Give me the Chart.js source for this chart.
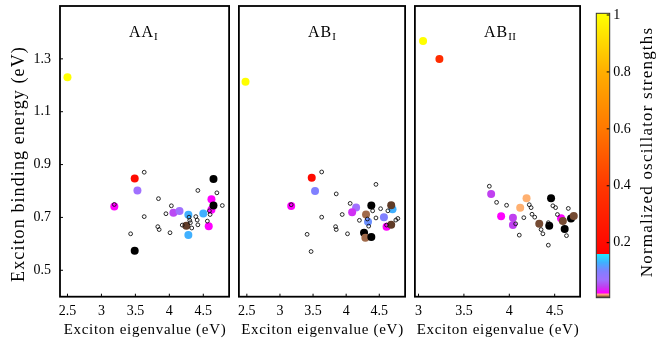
<!DOCTYPE html>
<html>
<head>
<meta charset="utf-8">
<script src="https://cdn.jsdelivr.net/npm/chart.js@4.4.1/dist/chart.umd.min.js"></script>
<style>
html, body { margin: 0; padding: 0; background: #fff; }
#wrap { position: relative; width: 660px; height: 344px; overflow: hidden; }
canvas { position: absolute; top: 0; }
</style>
</head>
<body>
<div id="wrap">
  <canvas id="p1" width="234" height="344" style="left:0px"></canvas>
  <canvas id="p2" width="176" height="344" style="left:234px"></canvas>
  <canvas id="p3" width="175" height="344" style="left:410px"></canvas>
  <canvas id="cb" width="75" height="344" style="left:585px"></canvas>
</div>
<script>
// AA_I: bright excitons (filled) and dark ones (open)
const aaX = [2.50, 3.49, 3.53, 3.19, 3.49, 4.06, 4.15, 4.28, 4.28, 4.25, 4.50, 4.58, 4.62, 4.62, 4.65, 4.65];
const aaY = [1.23, 0.847, 0.802, 0.741, 0.574, 0.718, 0.724, 0.71, 0.633, 0.668, 0.715, 0.667, 0.769, 0.729, 0.845, 0.745];
const aaF = [1.0, 0.2, 0.07, 0.025, 0, 0.05, 0.07, 0.13, 0.13, 0.009, 0.13, 0.025, 0.025, 0.025, 0, 0];
const aaOx = [3.63, 3.43, 3.63, 3.84, 3.83, 3.85, 3.95, 4.03, 4.01, 4.19, 4.29, 4.30, 4.31, 4.33, 4.39, 4.41, 4.42, 4.42, 4.56, 4.59, 4.60, 4.70, 4.78, 3.19];
const aaOy = [0.871, 0.638, 0.703, 0.771, 0.665, 0.654, 0.714, 0.744, 0.642, 0.671, 0.701, 0.689, 0.680, 0.660, 0.703, 0.690, 0.672, 0.802, 0.686, 0.725, 0.711, 0.793, 0.745, 0.749];

// AB_I
const abX = [2.48, 3.48, 3.53, 3.17, 4.15, 4.09, 4.38, 4.30, 4.33, 4.27, 4.29, 4.38, 4.57, 4.61, 4.70, 4.68, 4.68];
const abY = [1.213, 0.85, 0.80, 0.743, 0.738, 0.72, 0.745, 0.711, 0.684, 0.642, 0.623, 0.626, 0.701, 0.665, 0.731, 0.746, 0.672];
const abF = [1.0, 0.2, 0.1, 0.025, 0.07, 0.04, 0, 0.012, 0.11, 0, 0.012, 0, 0.1, 0.025, 0.13, 0.009, 0.009];
const abOx = [3.63, 3.41, 3.47, 3.63, 3.85, 3.84, 3.85, 3.94, 4.02, 4.06, 4.20, 4.32, 4.34, 4.40, 4.45, 4.45, 4.52, 4.63, 4.75, 4.78, 4.61, 3.17];
const abOy = [0.872, 0.636, 0.571, 0.701, 0.789, 0.665, 0.654, 0.711, 0.638, 0.753, 0.689, 0.694, 0.667, 0.725, 0.698, 0.825, 0.733, 0.725, 0.690, 0.696, 0.671, 0.748];

// AB_II
const ab2X = [3.05, 3.23, 3.80, 3.91, 4.04, 4.04, 4.12, 4.19, 4.33, 4.46, 4.44, 4.61, 4.57, 4.59, 4.68, 4.71];
const ab2Y = [1.368, 1.299, 0.789, 0.704, 0.699, 0.671, 0.737, 0.773, 0.676, 0.773, 0.668, 0.656, 0.697, 0.686, 0.696, 0.705];
const ab2F = [1.0, 0.35, 0.045, 0.025, 0.045, 0.045, 0.017, 0.017, 0.010, 0, 0, 0, 0.025, 0.010, 0, 0.010];
const ab2Ox = [3.78, 3.86, 3.97, 4.07, 4.11, 4.16, 4.22, 4.24, 4.25, 4.28, 4.35, 4.37, 4.43, 4.43, 4.48, 4.51, 4.53, 4.65, 4.63];
const ab2Oy = [0.818, 0.757, 0.746, 0.676, 0.633, 0.699, 0.748, 0.737, 0.712, 0.701, 0.654, 0.638, 0.595, 0.68, 0.744, 0.737, 0.711, 0.734, 0.631];

const xTicksI = [2.5, 3, 3.5, 4, 4.5];
const xTicksII = [3, 3.5, 4, 4.5];
const yTicks = [0.5, 0.7, 0.9, 1.1, 1.3];
const cbTicks = [0.2, 0.4, 0.6, 0.8, 1];

// colormap of the colorbar
const cmapPos = [0, 0.005, 0.009, 0.012, 0.017, 0.025, 0.045, 0.07, 0.1, 0.13, 0.16, 0.1601, 0.2, 0.4, 0.6, 0.8, 1];
const cmapCol = ["#000000", "#1a1010", "#603c28", "#a06a4a", "#ffb070", "#ff00ff", "#c040f0", "#a070ff",
  "#8080ff", "#40b0ff", "#20e8ff", "#ff0000", "#ff0a00", "#ff3800", "#ff7800", "#ffae00", "#ffff00"];

const FONT = "'Liberation Serif', 'Times New Roman', serif";

function hex(c) {
  return [1, 3, 5].map(i => parseInt(c.substr(i, 2), 16));
}
function cmap(v) {
  for (let i = 1; i < cmapPos.length; i++) {
    if (v <= cmapPos[i]) {
      const t = (v - cmapPos[i - 1]) / (cmapPos[i] - cmapPos[i - 1]);
      const a = hex(cmapCol[i - 1]), b = hex(cmapCol[i]);
      const c = a.map((x, k) => Math.round(x + (b[k] - x) * t));
      return "rgb(" + c.join(",") + ")";
    }
  }
  return cmapCol[cmapCol.length - 1];
}

function pts(xs, ys) {
  return xs.map((x, i) => ({ x: x, y: ys[i] }));
}

function noPad(s) {
  s.paddingTop = 0; s.paddingBottom = 0; s.paddingLeft = 0; s.paddingRight = 0;
}

// frame around the plot area and short inward ticks
const framePlugin = {
  id: "frame",
  afterDraw(chart) {
    const { ctx, chartArea: a, scales } = chart;
    ctx.save();
    ctx.strokeStyle = "#000";
    ctx.lineWidth = 1;
    const x = scales.x, y = scales.y;
    if (x.options.display) {
      x.ticks.forEach(t => {
        const px = x.getPixelForValue(t.value);
        ctx.beginPath(); ctx.moveTo(px, a.bottom); ctx.lineTo(px, a.bottom - 3); ctx.stroke();
      });
    }
    if (y.options.display) {
      y.ticks.forEach(t => {
        const py = y.getPixelForValue(t.value);
        ctx.beginPath();
        if (y.position === "right") { ctx.moveTo(a.right, py); ctx.lineTo(a.right - 3, py); }
        else { ctx.moveTo(a.left, py); ctx.lineTo(a.left + 3, py); }
        ctx.stroke();
      });
    }
    ctx.lineWidth = chart.canvas.id === "cb" ? 1 : 1.8;
    ctx.strokeStyle = chart.canvas.id === "cb" ? "#333" : "#000";
    ctx.strokeRect(a.left, a.top, a.right - a.left, a.bottom - a.top);
    ctx.restore();
  }
};

function panelLabel(name, sub) {
  return {
    id: "panelLabel",
    afterDraw(chart) {
      const { ctx, chartArea: a } = chart;
      ctx.save();
      ctx.fillStyle = "#000";
      ctx.textBaseline = "alphabetic";
      ctx.font = "16px " + FONT;
      ctx.letterSpacing = "1px";
      const x0 = a.left + 69;
      ctx.fillText(name, x0, 37);
      const w = ctx.measureText(name).width;
      ctx.font = "11px " + FONT;
      ctx.letterSpacing = "0.5px";
      ctx.fillText(sub, x0 + w, 40);
      ctx.restore();
    }
  };
}

// bottom axis title, centred under the plot area
const xTitlePlugin = {
  id: "xTitle",
  afterDraw(chart) {
    const { ctx, chartArea: a } = chart;
    ctx.save();
    ctx.font = "15px " + FONT;
    ctx.letterSpacing = "0.7px";
    ctx.fillStyle = "#000";
    ctx.textAlign = "center";
    ctx.textBaseline = "alphabetic";
    ctx.fillText("Exciton eigenvalue (eV)", (a.left + a.right) / 2 + 0.5, 334);
    ctx.restore();
  }
};

function rotText(text, cx, cy, size, spacing) {
  return {
    id: "rotText",
    afterDraw(chart) {
      const ctx = chart.ctx;
      ctx.save();
      ctx.translate(cx, cy);
      ctx.rotate(-Math.PI / 2);
      ctx.font = size + "px " + FONT;
      ctx.letterSpacing = spacing + "px";
      ctx.fillStyle = "#000";
      ctx.textAlign = "center";
      ctx.textBaseline = "middle";
      ctx.fillText(text, 0, 0);
      ctx.restore();
    }
  };
}

function makePanel(id, fx, fy, ff, ox, oy, xmin, xmax, xticks, pad, first, name, sub) {
  const plugins = [framePlugin, panelLabel(name, sub), xTitlePlugin];
  if (first) plugins.push(rotText("Exciton binding energy (eV)", 19, 164, 18, 1.1));
  new Chart(document.getElementById(id), {
    type: "scatter",
    data: {
      datasets: [
        {
          data: pts(ox, oy),
          pointRadius: 1.9,
          borderWidth: 0.9,
          borderColor: "#111",
          backgroundColor: "rgba(0,0,0,0)",
          order: 0,
        },
        {
          data: pts(fx, fy),
          pointRadius: 4,
          borderWidth: 0,
          backgroundColor: ff.map(cmap),
          order: 1,
        },
      ],
    },
    options: {
      responsive: false,
      animation: false,
      events: [],
      layout: { padding: { top: 6, left: pad[0], right: pad[1], bottom: 0 } },
      plugins: { legend: { display: false }, tooltip: { enabled: false } },
      scales: {
        x: {
          type: "linear",
          min: xmin,
          max: xmax,
          afterBuildTicks: s => { s.ticks = xticks.map(v => ({ value: v })); },
          afterFit: s => { s.height = 47.3; noPad(s); },
          grid: { display: false, drawTicks: false },
          border: { display: false },
          ticks: { color: "#000", padding: 6, font: { family: FONT, size: 14 }, callback: v => String(v) },
        },
        y: {
          type: "linear",
          display: first,
          min: 0.4,
          max: 1.5,
          afterBuildTicks: s => { s.ticks = yTicks.map(v => ({ value: v })); },
          afterFit: s => { s.width = first ? 60 : 0; noPad(s); },
          grid: { display: false, drawTicks: false },
          border: { display: false },
          ticks: { color: "#000", padding: 9, font: { family: FONT, size: 14 }, callback: v => String(v) },
        },
      },
    },
    plugins: plugins,
  });
}

makePanel("p1", aaX, aaY, aaF, aaOx, aaOy, 2.39, 4.88, xTicksI, [0, 3], true, "AA", "I");
makePanel("p2", abX, abY, abF, abOx, abOy, 2.38, 4.89, xTicksI, [3, 3], false, "AB", "I");
makePanel("p3", ab2X, ab2Y, ab2F, ab2Ox, ab2Oy, 2.96, 4.78, xTicksII, [2.5, 3.5], false, "AB", "II");

// colorbar
const barPlugin = {
  id: "bar",
  beforeDatasetsDraw(chart) {
    const { ctx, chartArea: a, scales } = chart;
    const y0 = scales.y.getPixelForValue(0), y1 = scales.y.getPixelForValue(1);
    const g = ctx.createLinearGradient(0, y0, 0, y1);
    cmapPos.forEach((p, i) => g.addColorStop(p, cmapCol[i]));
    ctx.save();
    ctx.fillStyle = g;
    ctx.fillRect(a.left, a.top, a.right - a.left, a.bottom - a.top);
    ctx.restore();
  }
};

new Chart(document.getElementById("cb"), {
  type: "scatter",
  data: { datasets: [{ data: [] }] },
  options: {
    responsive: false,
    animation: false,
    events: [],
    layout: { padding: { top: 13.3, left: 11.3, right: 0, bottom: 46.3 } },
    plugins: { legend: { display: false }, tooltip: { enabled: false } },
    scales: {
      x: { display: false, min: 0, max: 1 },
      y: {
        position: "right",
        min: 0.0067,
        max: 1.006,
        afterBuildTicks: s => { s.ticks = cbTicks.map(v => ({ value: v })); },
        afterFit: s => { s.width = 50.3; noPad(s); },
        grid: { display: false, drawTicks: false },
        border: { display: false },
        ticks: { color: "#000", padding: 3.5, font: { family: FONT, size: 14 }, callback: v => String(v) },
      },
    },
  },
  plugins: [barPlugin, framePlugin, rotText("Normalized oscillator strengths", 63, 152, 17, 1.2)],
});
</script>
</body>
</html>
